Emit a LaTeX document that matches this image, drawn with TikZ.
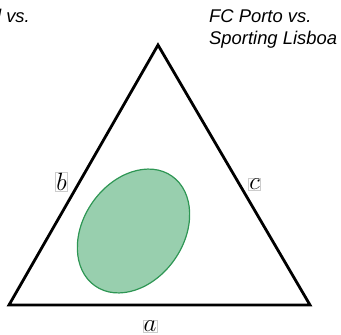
\documentclass[tikz,border=0pt]{standalone}
\usepackage{fontspec}
\setmainfont{Liberation Sans}
\usetikzlibrary{shapes.geometric}
\definecolor{blobfill}{RGB}{152,207,174}
\definecolor{blobline}{RGB}{46,150,84}
\tikzset{
  side/.style={line width=2.8pt, line join=miter},
  edgelabel/.style={draw=black!20, line width=0.5pt, inner sep=0.8pt, font=\fontsize{30}{36}\selectfont},
  team/.style={font=\fontsize{18.4}{22}\selectfont\itshape, inner sep=0pt},
  blob/.style={ellipse, draw=blobline, fill=blobfill, line width=1.2pt, minimum width=100pt, minimum height=134pt, inner sep=0pt}
}
\begin{document}
\begin{tikzpicture}[x=1pt,y=-1pt]
\useasboundingbox (0,0) rectangle (341,335);
\coordinate (A) at (158,45);
\coordinate (L) at (9,305);
\coordinate (R) at (310,305);
\draw[side] (A) -- (L) -- (R) -- cycle;
\node[blob, rotate=-35] (region) at (133.5,231) {};
\node[edgelabel] (lb) at (61.5,182) {$b$};
\node[edgelabel] (lc) at (254.5,184) {$c$};
\node[edgelabel] (la) at (150,326) {$a$};
\node[team, anchor=base west] (t1) at (209,22) {FC Porto vs.};
\node[team, anchor=base west] (t2) at (209,44) {Sporting Lisboa};
\node[team, anchor=base east] (t0) at (30,22) {l vs.};
\end{tikzpicture}
\end{document}
